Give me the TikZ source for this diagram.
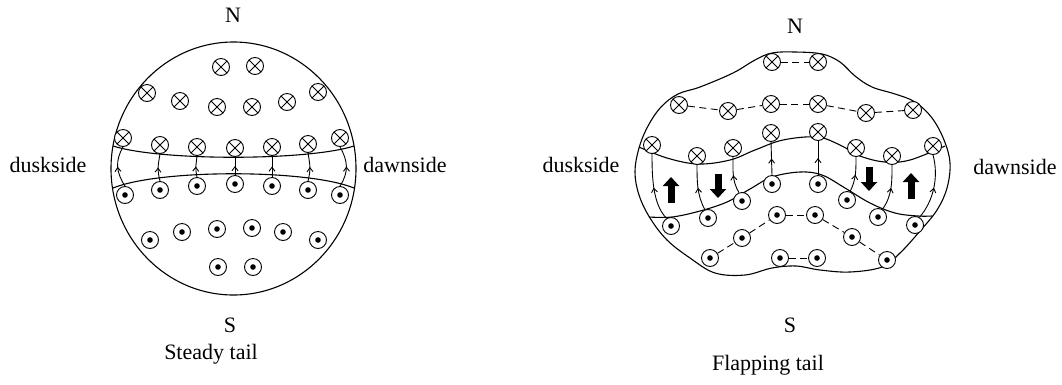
\documentclass[tikz,border=0pt]{standalone}
\usepackage{fontspec}
\setmainfont{Liberation Serif}
\usetikzlibrary{arrows.meta,decorations.markings,shapes.geometric}
\tikzset{
  lw/.style={line width=0.9pt},
  xc/.style={circle,draw,line width=0.9pt,fill=white,minimum size=17pt,inner sep=0pt,
    path picture={\draw[black,line width=0.9pt] (path picture bounding box.north west)--(path picture bounding box.south east)
      (path picture bounding box.north east)--(path picture bounding box.south west);}},
  dc/.style={circle,draw,line width=0.9pt,fill=white,minimum size=17pt,inner sep=0pt,
    path picture={\fill[black] (path picture bounding box.center) circle (2.8pt);}},
  fline/.style={line width=0.9pt, decoration={markings, mark=at position #1 with {\arrow{Straight Barb[length=4pt,width=6pt]}}}, postaction=decorate},
  fline/.default=0.5,
  dsh/.style={line width=0.9pt, dash pattern=on 7pt off 4.5pt},
  bigarr/.style={line width=7pt, -{Triangle[length=9pt,width=16pt]}},
  lbl/.style={font=\fontsize{22}{26}\selectfont, anchor=base, inner sep=0pt},
  outl/.style={line width=1.1pt}
}
\begin{document}
\begin{tikzpicture}[x=1pt,y=-1pt]
\useasboundingbox (0,0) rectangle (1062,384);
% ---------------- left figure ----------------
\node[draw,outl,ellipse,minimum width=245pt,minimum height=253pt,inner sep=0pt] (lc) at (233.5,168.5) {};
\draw[outl] (113,146) .. controls (160,161) and (307,161) .. (354,146);
\draw[outl] (113,188) .. controls (160,169) and (307,169) .. (354,188);
\node[xc] (a1) at (221,67) {};
\node[xc] (a2) at (255,66) {};
\node[xc] (b1) at (147,93) {};
\node[xc] (b2) at (180,101) {};
\node[xc] (b3) at (217,107) {};
\node[xc] (b4) at (252,107) {};
\node[xc] (b5) at (287,102) {};
\node[xc] (b6) at (318,92) {};
\node[xc] (c1) at (123,138) {};
\node[xc] (c2) at (160,145) {};
\node[xc] (c3) at (197,147) {};
\node[xc] (c4) at (235,148) {};
\node[xc] (c5) at (272,147) {};
\node[xc] (c6) at (308,144) {};
\node[xc] (c7) at (340,138) {};
\node[dc] (d1) at (125,195) {};
\node[dc] (d2) at (160,190) {};
\node[dc] (d3) at (197,186) {};
\node[dc] (d4) at (235,184) {};
\node[dc] (d5) at (272,186) {};
\node[dc] (d6) at (308,190) {};
\node[dc] (d7) at (340,195) {};
\node[dc] (e1) at (150,240) {};
\node[dc] (e2) at (182,232) {};
\node[dc] (e3) at (217,229) {};
\node[dc] (e4) at (252,228) {};
\node[dc] (e5) at (283,232) {};
\node[dc] (e6) at (318,240) {};
\node[dc] (f1) at (218,267) {};
\node[dc] (f2) at (253,267) {};
\draw[fline] (d1.north) .. controls +(-9,-14) and +(-8,14) .. (c1.south);
\draw[fline] (d2.north) .. controls +(-3,-12) and +(-2,12) .. (c2.south);
\draw[fline] (d3.north) .. controls +(-2,-10) and +(-1,10) .. (c3.south);
\draw[fline] (d4.north) -- (c4.south);
\draw[fline] (d5.north) -- (c5.south);
\draw[fline] (d6.north) .. controls +(3,-12) and +(2,12) .. (c6.south);
\draw[fline] (d7.north) .. controls +(9,-14) and +(8,14) .. (c7.south);
\node[lbl] (nl) at (233,22) {N};
\node[lbl] (sl) at (230,332) {S};
\node[lbl] (tl) at (211,359) {Steady tail};
\node[lbl] (dul) at (48,172) {duskside};
\node[lbl] (dal) at (405,172) {dawnside};
% ---------------- right figure ----------------
\draw[outl] plot[smooth cycle, tension=0.6] coordinates {
 (795,52) (822,54) (840,62) (855,76) (872,87) (895,94) (915,102) (932,118) (944,140)
 (950,163) (947,188) (937,210) (920,231) (900,253) (882,267) (850,272) (820,270)
 (796,266) (772,268) (745,275) (715,273) (690,258) (667,240) (650,218) (639,195)
 (635,172) (639,148) (648,126) (661,107) (678,94) (700,87) (733,73) (755,60) (772,53)};
\draw[outl] plot[smooth, tension=0.6] coordinates {
 (639,147) (667,158) (698,164) (730,160) (755,150) (783,140) (817,137) (840,145)
 (860,156) (885,162) (910,160) (945,146)};
\draw[outl] plot[smooth, tension=0.6] coordinates {
 (649,217) (672,217) (700,211) (727,202) (750,189) (772,177) (800,172) (822,175)
 (845,188) (870,203) (895,213) (918,216) (932,216)};
\node[xc] (p1) at (772,62) {};
\node[xc] (p2) at (818,62) {};
\node[xc] (q1) at (679,105) {};
\node[xc] (q2) at (728,111) {};
\node[xc] (q3) at (771,104) {};
\node[xc] (q4) at (818,104) {};
\node[xc] (q5) at (866,113) {};
\node[xc] (q6) at (913,110) {};
\node[xc] (r1) at (652,145) {};
\node[xc] (r2) at (697,156) {};
\node[xc] (r3) at (733,148) {};
\node[xc] (r4) at (771,133) {};
\node[xc] (r5) at (818,132) {};
\node[xc] (r6) at (856,148) {};
\node[xc] (r7) at (892,156) {};
\node[xc] (r8) at (933,146) {};
\node[dc] (s1) at (671,226) {};
\node[dc] (s2) at (708,218) {};
\node[dc] (s3) at (742,201) {};
\node[dc] (s4) at (772,184) {};
\node[dc] (s5) at (818,184) {};
\node[dc] (s6) at (847,200) {};
\node[dc] (s7) at (878,217) {};
\node[dc] (s8) at (915,225) {};
\node[dc] (t1) at (777,215) {};
\node[dc] (t2) at (815,215) {};
\node[dc] (u1) at (742,238) {};
\node[dc] (u2) at (852,237) {};
\node[dc] (v1) at (710,258) {};
\node[dc] (v2) at (780,258) {};
\node[dc] (v3) at (817,258) {};
\node[dc] (v4) at (887,260) {};
\draw[dsh] (p1) -- (p2);
\draw[dsh] (q1) -- (q2);
\draw[dsh] (q2) -- (q3);
\draw[dsh] (q3) -- (q4);
\draw[dsh] (q4) -- (q5);
\draw[dsh] (q5) -- (q6);
\draw[dsh] (v1) -- (u1);
\draw[dsh] (u1) -- (t1);
\draw[dsh] (t1) -- (t2);
\draw[dsh] (t2) -- (u2);
\draw[dsh] (u2) -- (v4);
\draw[dsh] (v2) -- (v3);
\draw[fline] (s1.120) .. controls +(-14,-14) and +(0,22) .. (r1.south);
\draw[fline] (s2.110) .. controls +(-8,-14) and +(0,16) .. (r2.south);
\draw[fline] (s3.110) .. controls +(-7,-12) and +(0,14) .. (r3.south);
\draw[fline] (s4.north) -- (r4.south);
\draw[fline] (s5.north) -- (r5.south);
\draw[fline] (s6.70) .. controls +(6,-12) and +(0,14) .. (r6.south);
\draw[fline] (s7.60) .. controls +(10,-14) and +(0,16) .. (r7.south);
\draw[fline] (s8.60) .. controls +(14,-16) and +(6,22) .. (r8.south);
\coordinate (ua) at (671,203); \coordinate (ub) at (671,177);
\coordinate (da) at (718,174); \coordinate (db) at (718,198);
\coordinate (dc1) at (869,167); \coordinate (dd) at (869,191);
\coordinate (uc) at (911,199); \coordinate (ud) at (911,173);
\draw[bigarr] (ua) -- (ub);
\draw[bigarr] (da) -- (db);
\draw[bigarr] (dc1) -- (dd);
\draw[bigarr] (uc) -- (ud);
\node[lbl] (nr) at (795,33) {N};
\node[lbl] (sr) at (790,332) {S};
\node[lbl] (tr) at (768,370) {Flapping tail};
\node[lbl] (dur) at (581,172) {duskside};
\node[lbl] (dar) at (1015,174) {dawnside};
\end{tikzpicture}
\end{document}
